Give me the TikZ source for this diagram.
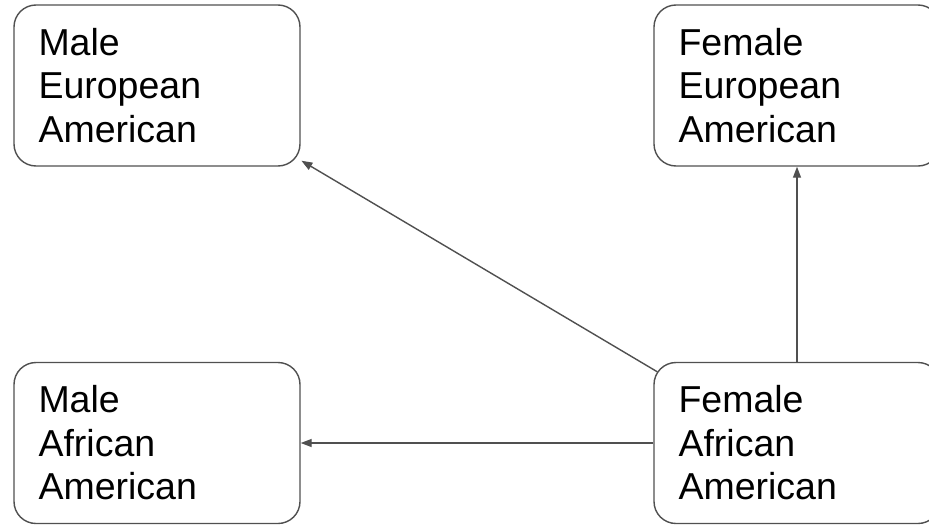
\documentclass[tikz,border=0pt]{standalone}
\usepackage{fontspec}
\setmainfont{Liberation Sans}
\usetikzlibrary{arrows.meta,calc}
\definecolor{edge}{HTML}{505050}
\begin{document}
\begin{tikzpicture}[x=1pt,y=-1pt,
  box/.style={draw=edge, line width=1.4pt, rounded corners=22pt,
    minimum height=161pt, text width=237pt, inner xsep=24.5pt, inner ysep=0pt,
    align=left, font=\fontsize{37.5}{43.5}\selectfont},
  arr/.style={draw=edge, line width=1.4pt, -{Triangle[length=11pt,width=8pt]}}]
\clip (0,0) rectangle (929,525);
\fill[white] (0,0) rectangle (929,525);
\node[box] (tl) at (157,85.5) {Male\\European\\American};
\node[box] (tr) at (797,85.5) {Female\\European\\American};
\node[box] (bl) at (157,443) {Male\\African\\American};
\node[box] (br) at (797,443) {Female\\African\\American};
\draw[arr] ($(br.north west)+(4,10)$) -- ($(tl.south east)+(0.7,-6)$);
\draw[arr] (br.north) -- (tr.south);
\draw[arr] (br.west) -- (bl.east);
\end{tikzpicture}
\end{document}
